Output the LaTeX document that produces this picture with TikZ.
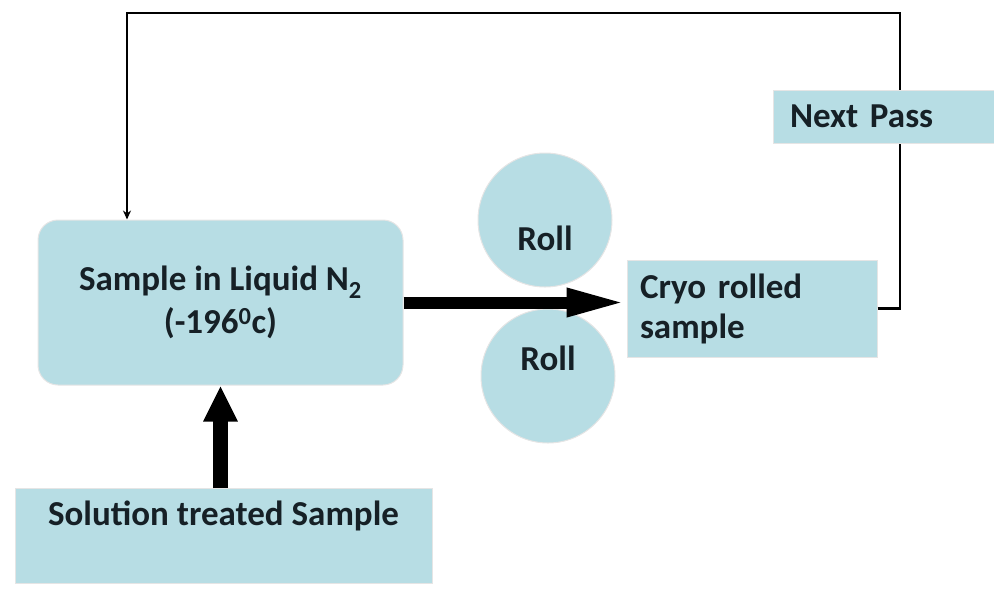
\documentclass[tikz,border=0pt]{standalone}
\usepackage{fontspec}
\setmainfont{Carlito}
\usetikzlibrary{arrows.meta}
\definecolor{boxblue}{RGB}{183,221,228}
\definecolor{txt}{RGB}{22,32,38}
\begin{document}
\begin{tikzpicture}[x=1pt,y=-1pt,
 box/.style={fill=boxblue, draw=black!10, line width=1pt, font=\bfseries\fontsize{35}{43}\selectfont, text=txt, inner sep=0pt},
 fb/.style={line width=2.8pt, draw=black}]
\useasboundingbox (0,0) rectangle (994,590);
\node[box, rounded corners=20pt, minimum width=365pt, minimum height=165pt, align=center] (sample) at (220.5,302.5) {Sample in Liquid N\textsubscript{2}\\(-196\textsuperscript{0}c)};
\node[box, circle, minimum size=134pt, text height=61pt, text depth=0pt] (r1) at (545,220) {Roll};
\node[box, circle, minimum size=134pt, text height=25pt, text depth=36pt] (r2) at (548,376) {Roll};
\node[box, font=\bfseries\fontsize{35}{40}\selectfont, minimum width=250pt, minimum height=97pt, text width=224pt, inner xsep=13pt, align=left] (cryo) at (752,308.5) {Cryo rolled\\sample};
\node[box, minimum width=227pt, minimum height=53pt, text width=193pt, inner xsep=17pt, align=left] (next) at (886.5,116.5) {Next Pass};
\node[box, anchor=north, minimum width=417pt, text height=37pt, text depth=58pt] (sol) at (223.5,488) {Solution treated Sample};
\coordinate (tl) at (127,13);
\coordinate (tr) at (900,13);
\draw[fb] (cryo.east) -- (cryo.east -| tr) -- (tr |- next.south);
\draw[fb, -{Stealth[length=9pt,width=8pt]}] (tr |- next.north) -- (tr) -- (tl) -- (tl |- sample.north);
\draw[line width=12pt, -{Triangle[length=60pt,width=26pt]}] (sample.east) -- (sample.east -| cryo.west);
\draw[line width=15pt, -{Triangle[length=36pt,width=32pt]}] (sample.south |- sol.north) -- (sample.south);
\end{tikzpicture}
\end{document}
